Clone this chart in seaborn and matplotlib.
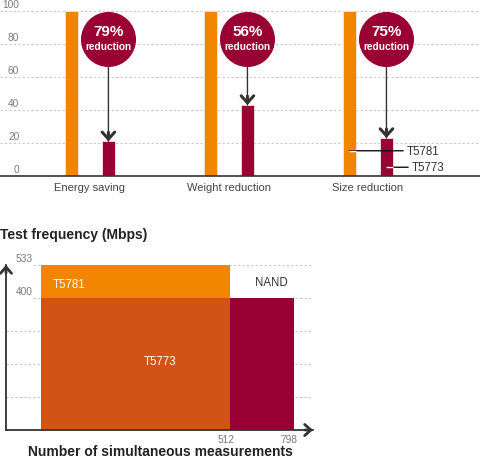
import numpy as np
import pandas as pd
import matplotlib.pyplot as plt
import seaborn as sns
from matplotlib.transforms import offset_copy

# top panel data (T5781 = 100)
categories = ["Energy saving", "Weight reduction", "Size reduction"]
series = ["T5781", "T5773"]
t5781_rel = [100, 100, 100]
t5773_rel = [21, 43, 23]
reduction_pct = [79, 56, 75]
top_ticks = [0, 20, 40, 60, 80, 100]

# bottom panel data
freq_t5773 = 400
freq_t5781 = 533
freq_nand = 400
meas_t57xx = 512
meas_nand = 798
freq_grid = [100, 200, 300, 400, 533]
freq_labels = [400, 533]
meas_labels = [512, 798]

ORANGE = "#f28500"
DARK_ORANGE = "#d15415"
CRIMSON = "#990033"
INK = "#333333"
GREY = "#7a7a7a"
GRID = "#c8c8c8"

sns.set_style("white")
plt.rcParams["font.family"] = ["Liberation Sans", "DejaVu Sans"]

fig = plt.figure(figsize=(4.8, 4.6), dpi=100)

# ---- top: relative bars ----
ax1 = fig.add_axes([0, 283 / 460, 1, 165 / 460])
df = pd.DataFrame({
    "category": categories * 2,
    "series": [series[0]] * 3 + [series[1]] * 3,
    "value": t5781_rel + t5773_rel,
})
sns.barplot(data=df, x="category", y="value", hue="series", hue_order=series,
            palette=[ORANGE, CRIMSON], width=0.532, gap=0.65, saturation=1,
            legend=False, ax=ax1, edgecolor="#fbe3e0", linewidth=0.6)
ax1.set_xlim(-0.647, 2.806)
ax1.set_ylim(0, 100)
ax1.set_xlabel("")
ax1.set_ylabel("")
ax1.set_yticks(top_ticks)
ax1.set_yticklabels([])
ax1.tick_params(axis="y", length=0)
ax1.tick_params(axis="x", length=0, pad=4, labelsize=8, labelcolor="#444444")
ax1.grid(axis="y", color=GRID, linestyle=(0, (2, 2)), lw=0.8)
ax1.set_axisbelow(True)
for s in ["left", "right", "top"]:
    ax1.spines[s].set_visible(False)
ax1.spines["bottom"].set_color(INK)
ax1.spines["bottom"].set_linewidth(1.2)

ytxt = offset_copy(ax1.get_yaxis_transform(), fig=fig, x=0, y=7, units="dots")
for v in top_ticks:
    ax1.text(0.04, v, str(v), transform=ytxt, ha="right", va="center",
             fontsize=7.3, color=GREY)

# reduction bubbles + arrows
for bar, pct in zip(ax1.containers[1], reduction_pct):
    cx = bar.get_x() + bar.get_width() / 2
    top = bar.get_height()
    ax1.scatter(cx, 83, s=1570, color=CRIMSON, linewidths=0, zorder=4)
    ax1.annotate(f"{pct}%", (cx, 83), xytext=(0, 8), textcoords="offset pixels",
                 ha="center", va="center", fontsize=11, fontweight="bold",
                 color="white", zorder=5)
    ax1.annotate("reduction", (cx, 83), xytext=(0, -7), textcoords="offset pixels",
                 ha="center", va="center", fontsize=7.3, fontweight="bold",
                 color="white", zorder=5)
    ax1.annotate("", xy=(cx, top), xytext=(cx, 66),
                 arrowprops=dict(arrowstyle="-", color=INK, lw=1,
                                 shrinkA=0, shrinkB=0))
    ax1.annotate("", xy=(cx, top), xytext=(0, 9), textcoords="offset pixels",
                 arrowprops=dict(arrowstyle="->,head_length=0.5,head_width=0.45",
                                 color=INK, lw=2.2, shrinkA=0, shrinkB=0))

# series labels on the last group
for bar, y, dx, name in [(ax1.containers[0][2], 15.3, 55, series[0]),
                         (ax1.containers[1][2], 5.3, 23, series[1])]:
    cx = bar.get_x() + bar.get_width() / 2
    ax1.annotate(name, xy=(cx, y), xytext=(dx + 2, 0), textcoords="offset pixels",
                 ha="left", va="center", fontsize=8.3, color=INK, zorder=5,
                 arrowprops=dict(arrowstyle="-", color="#111111", lw=1,
                                 shrinkA=0, shrinkB=0, relpos=(0, 0.5)))
    ax1.plot([cx, bar.get_x() + bar.get_width()], [y, y], color="white", lw=1,
             solid_capstyle="butt", zorder=6)


# ---- bottom: schematic frequency / measurements ----
def piecewise(src, dst):
    def f(v):
        v = np.asarray(v, dtype=float)
        out = np.interp(v, src, dst)
        lo = dst[0] + (v - src[0]) * (dst[1] - dst[0]) / (src[1] - src[0])
        hi = dst[-1] + (v - src[-1]) * (dst[-1] - dst[-2]) / (src[-1] - src[-2])
        out = np.where(v < src[0], lo, out)
        return np.where(v > src[-1], hi, out)
    return f


ax2 = fig.add_axes([6 / 480, 29 / 460, 307 / 480, 165 / 460])
xs, xd = [0, meas_t57xx, meas_nand], [0, 189, 253]
ys, yd = [0, freq_t5773, freq_t5781], [0, 4, 5]
ax2.set_xscale("function", functions=(piecewise(xs, xd), piecewise(xd, xs)))
ax2.set_yscale("function", functions=(piecewise(ys, yd), piecewise(yd, ys)))
ax2.set_xlim(-95, 883)
ax2.set_ylim(0, freq_t5781)

ax2.bar(0, freq_t5773, width=meas_t57xx, align="edge", color=DARK_ORANGE,
        linewidth=0, zorder=2)
ax2.bar(0, freq_t5781 - freq_t5773, bottom=freq_t5773, width=meas_t57xx,
        align="edge", color=ORANGE, linewidth=0, zorder=2)
ax2.bar(meas_t57xx, freq_nand, width=meas_nand - meas_t57xx, align="edge",
        color=CRIMSON, linewidth=0, zorder=2)

for v in freq_grid:
    ax2.axhline(v, xmin=0.088 if v in freq_labels else 0, xmax=1, color=GRID,
                linestyle=(0, (2, 2)), lw=0.8, zorder=0)

ax2.set_xticks([])
ax2.set_yticks([])
for s in ["right", "top"]:
    ax2.spines[s].set_visible(False)
for s in ["left", "bottom"]:
    ax2.spines[s].set_color(INK)
    ax2.spines[s].set_linewidth(1.3)
    ax2.spines[s].set_zorder(3)

head = dict(arrowstyle="->,head_length=0.45,head_width=0.4", color=INK, lw=2,
            shrinkA=0, shrinkB=0)
ax2.annotate("", xy=(1, 0), xycoords="axes fraction", xytext=(-8, 0),
             textcoords="offset pixels", arrowprops=head, annotation_clip=False)
ax2.annotate("", xy=(0, 1), xycoords="axes fraction", xytext=(0, -8),
             textcoords="offset pixels", arrowprops=head, annotation_clip=False)

ytxt2 = offset_copy(ax2.get_yaxis_transform(), fig=fig, x=0, y=7, units="dots")
for v in freq_labels:
    ax2.text(0.088, v, str(v), transform=ytxt2, ha="right", va="center",
             fontsize=7.3, color=GREY)
for v in meas_labels:
    ax2.annotate(str(v), xy=(v, 0), xycoords=("data", "axes fraction"),
                 xytext=(4, -9), textcoords="offset pixels", ha="right",
                 va="center", fontsize=7.3, color=GREY, annotation_clip=False)

ax2.annotate("T5781", xy=(0, (freq_t5781 + freq_t5773) / 2), xytext=(12, -3),
             textcoords="offset pixels", ha="left", va="center", color="white",
             fontsize=8.3, zorder=4)
ax2.annotate("T5773", xy=(meas_t57xx / 2, freq_t5773 / 2), xytext=(25, 3),
             textcoords="offset pixels", ha="center", va="center", color="white",
             fontsize=8.3, zorder=4)
ax2.annotate("NAND", xy=((meas_t57xx + meas_nand) / 2, freq_nand), xytext=(9, 16),
             textcoords="offset pixels", ha="center", va="center", color=INK,
             fontsize=8.3, zorder=4)

fig.text(0, 1 - 235 / 460, "Test frequency (Mbps)", ha="left", va="center",
         fontsize=10, fontweight="bold", color="#222222")
fig.text(160 / 480, 1 - 452 / 460, "Number of simultaneous measurements",
         ha="center", va="center", fontsize=10, fontweight="bold", color="#222222")

fig.savefig("out.png", dpi=100)
